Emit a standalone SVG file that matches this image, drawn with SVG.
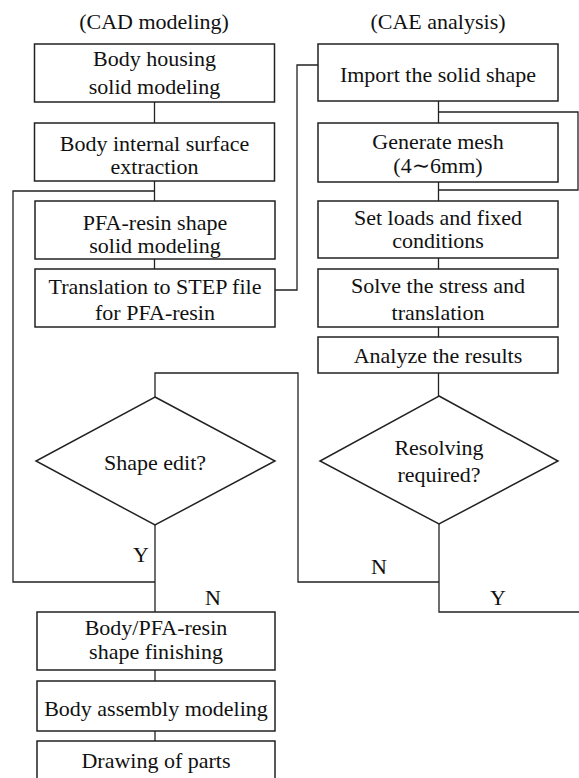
<svg xmlns="http://www.w3.org/2000/svg" width="579" height="778" viewBox="0 0 579 778">
<style>
.box{fill:#fff;stroke:#222;stroke-width:1.5}
.ln{fill:none;stroke:#222;stroke-width:1.3}
text{font-family:"Liberation Serif","DejaVu Serif","Times New Roman",serif;font-size:22px;fill:#111;text-anchor:middle}
</style>
<rect width="579" height="778" fill="#fff"/>
<g id="connectors">
<path class="ln" d="M154.5 102V123M154.5 181V201M154.5 259V269M155 525V612M155 670V681M155 731V741"/>
<path class="ln" d="M438.5 101V123M438.5 182V201M438.5 258V269M438.5 327V337M438.5 373V396M439 524V612H579"/>
<path class="ln" d="M155 582H13V191H154.5"/>
<path class="ln" d="M275 290H297V65H318"/>
<path class="ln" d="M438.5 112H578V190H438.5"/>
<path class="ln" d="M439 582H298V373H155V397"/>
</g>
<g id="title-cad"><text x="154" y="29">(CAD modeling)</text></g>
<g id="title-cae"><text x="438" y="29">(CAE analysis)</text></g>
<g id="n1"><rect class="box" x="34.5" y="44" width="240" height="58"/><text x="154.5" y="66">Body housing</text><text x="154.5" y="94">solid modeling</text></g>
<g id="n2"><rect class="box" x="34.5" y="123" width="240" height="58"/><text x="154.5" y="151">Body internal surface</text><text x="154.5" y="174">extraction</text></g>
<g id="n3"><rect class="box" x="35" y="201" width="240" height="58"/><text x="155" y="230">PFA-resin shape</text><text x="155" y="253">solid modeling</text></g>
<g id="n4"><rect class="box" x="35" y="269" width="240" height="58"/><text x="155" y="294">Translation to STEP file</text><text x="155" y="320">for PFA-resin</text></g>
<g id="d1"><polygon class="box" points="155,397 275,461 155,525 36,461"/><text x="155" y="470">Shape edit?</text></g>
<g id="n5"><rect class="box" x="37" y="612" width="238" height="58"/><text x="156" y="635">Body/PFA-resin</text><text x="156" y="659">shape finishing</text></g>
<g id="n6"><rect class="box" x="37" y="681" width="238" height="50"/><text x="156" y="716">Body assembly modeling</text></g>
<g id="n7"><rect class="box" x="37" y="741" width="238" height="50"/><text x="156" y="768">Drawing of parts</text></g>
<g id="r1"><rect class="box" x="318" y="44" width="240" height="57"/><text x="438" y="82">Import the solid shape</text></g>
<g id="r2"><rect class="box" x="318" y="123" width="240" height="59"/><text x="438" y="149">Generate mesh</text><text x="438" y="173">(4∼6mm)</text></g>
<g id="r3"><rect class="box" x="318" y="201" width="240" height="57"/><text x="438" y="225">Set loads and fixed</text><text x="438" y="248">conditions</text></g>
<g id="r4"><rect class="box" x="318" y="269" width="240" height="58"/><text x="438" y="293">Solve the stress and</text><text x="438" y="320">translation</text></g>
<g id="r5"><rect class="box" x="318" y="337" width="240" height="36"/><text x="438" y="363">Analyze the results</text></g>
<g id="d2"><polygon class="box" points="439,396 558,461 439,524 320,461"/><text x="439" y="455">Resolving</text><text x="439" y="482">required?</text></g>
<g id="labels"><text x="141" y="562">Y</text><text x="213" y="605">N</text><text x="379" y="574">N</text><text x="498" y="605">Y</text></g>
</svg>
